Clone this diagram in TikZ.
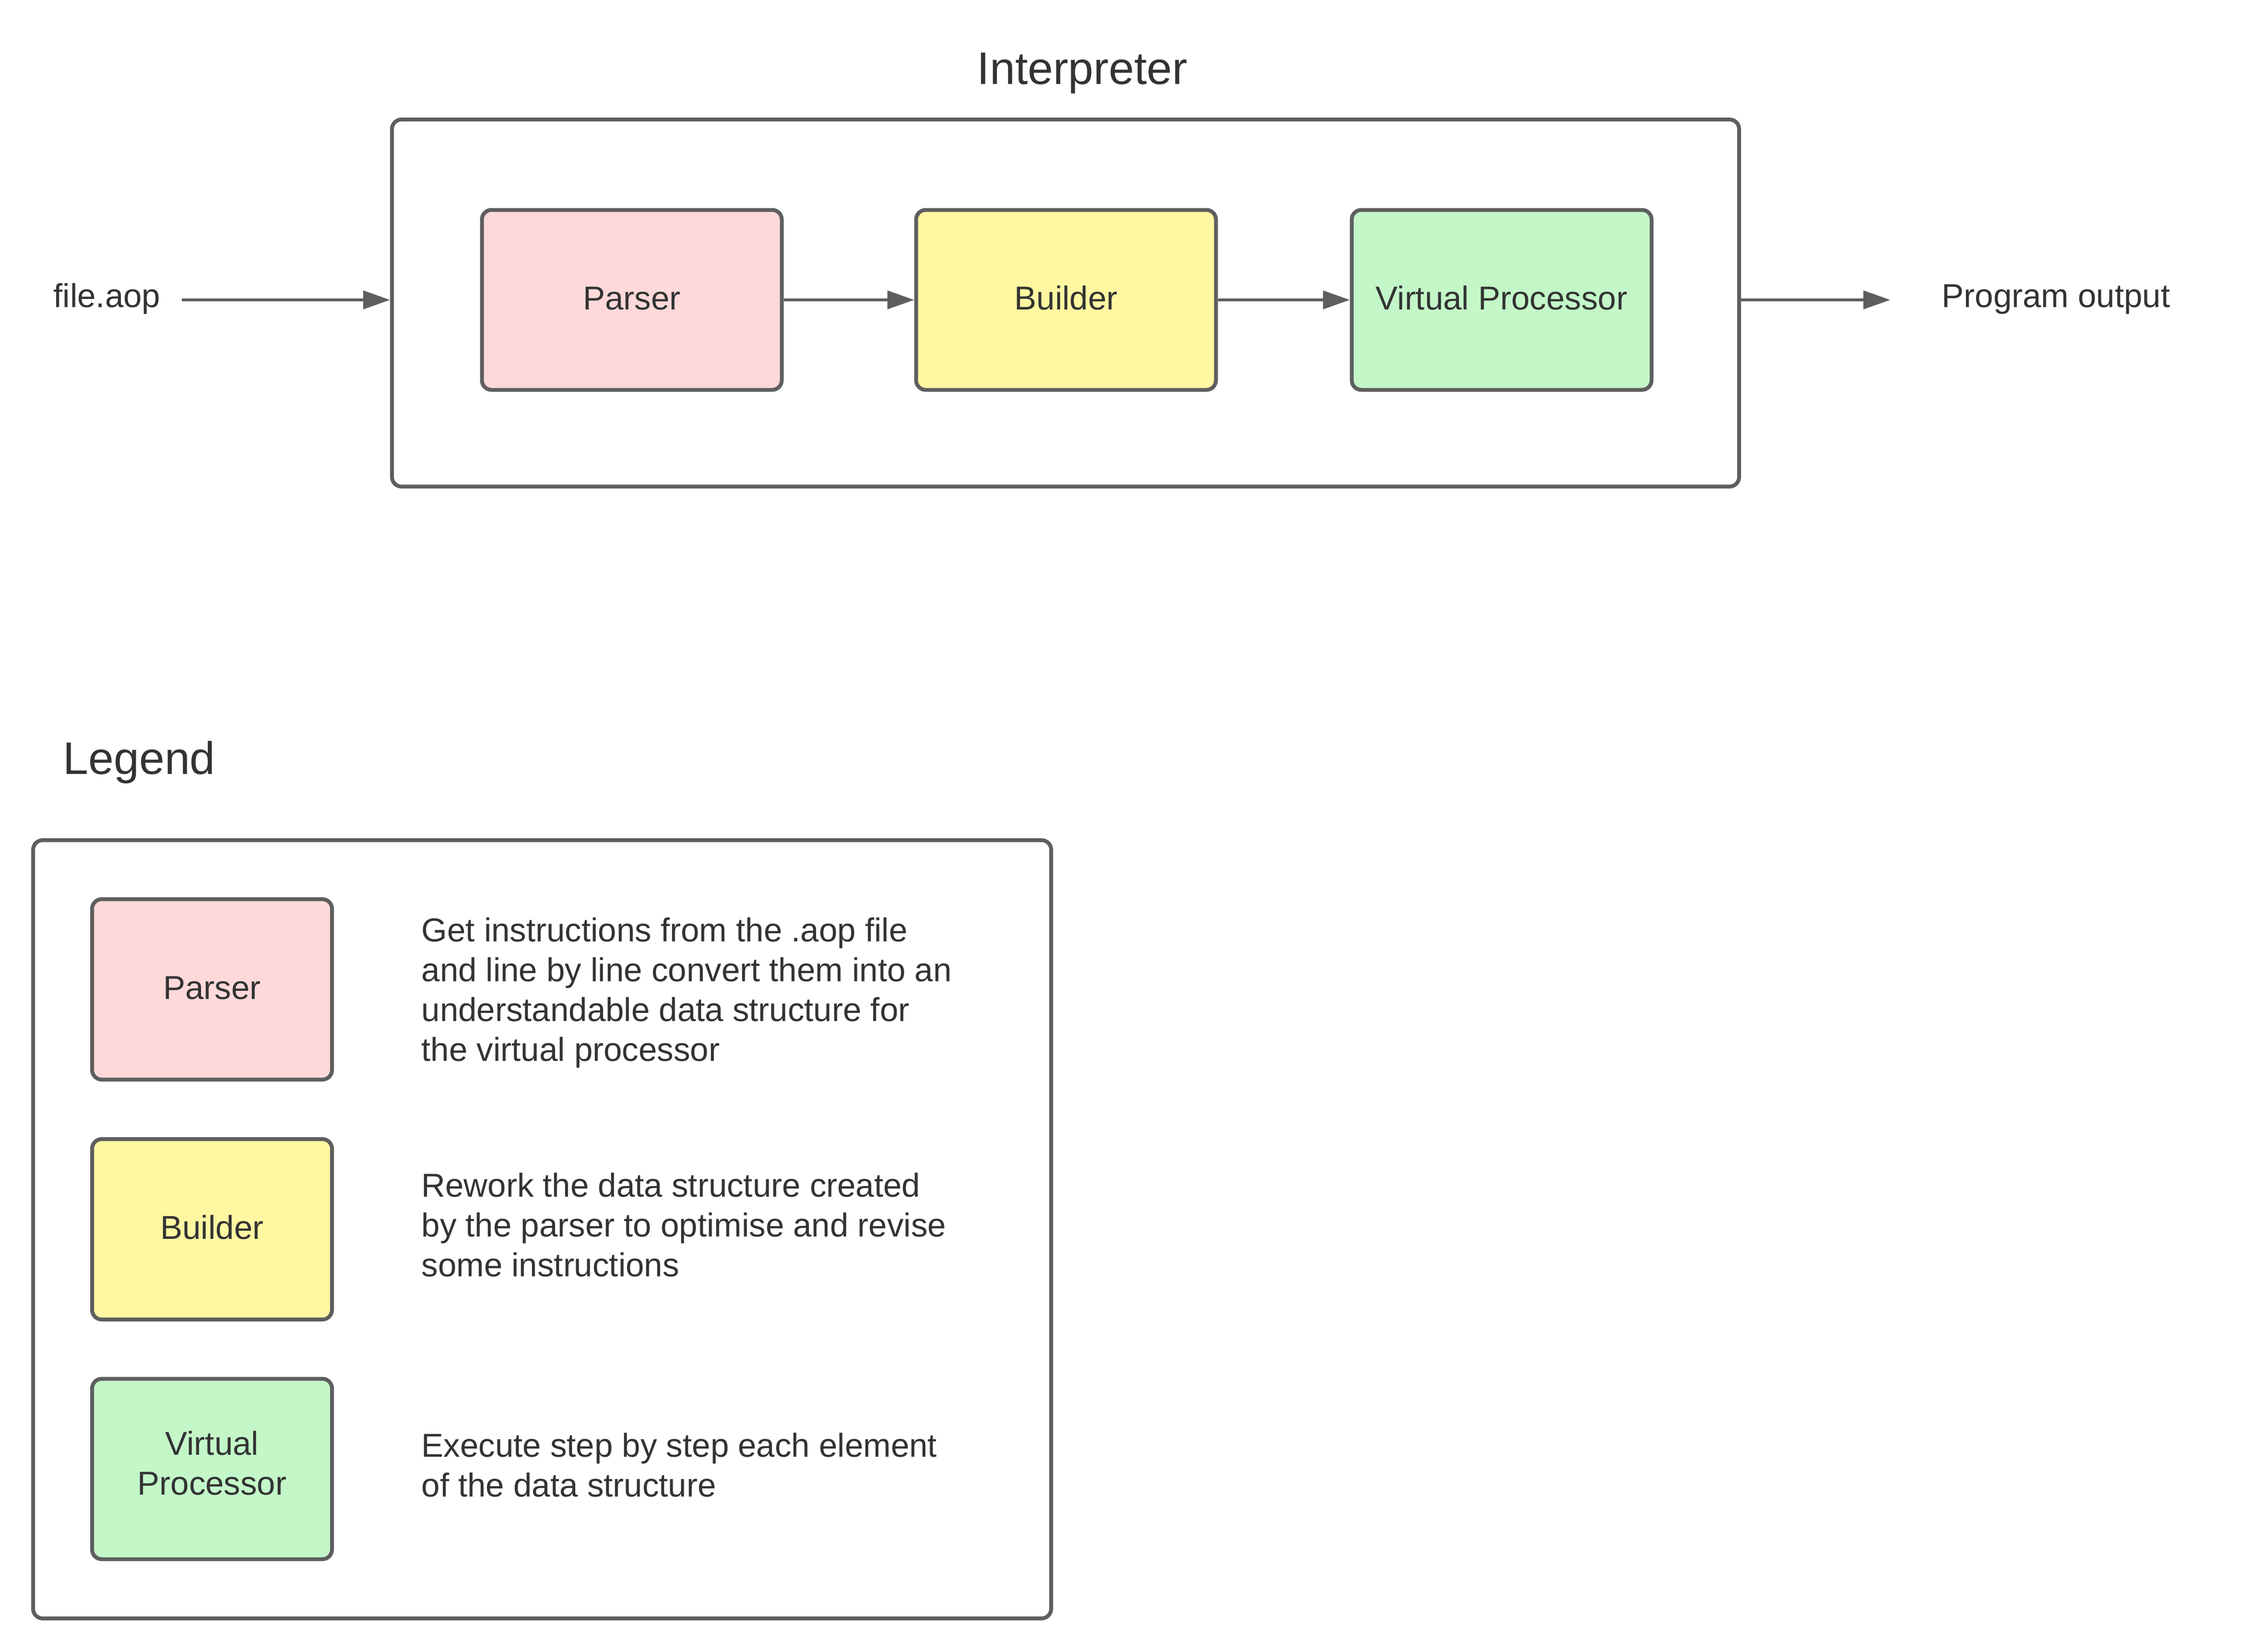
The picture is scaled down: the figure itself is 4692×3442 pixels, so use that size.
\documentclass[tikz,border=0pt]{standalone}
\usepackage{fontspec}
\setmainfont{Liberation Sans}
\usetikzlibrary{arrows.meta}
\definecolor{strokegray}{HTML}{5E5E5E}
\definecolor{textgray}{HTML}{333333}
\definecolor{pinkfill}{HTML}{FFD9D9}
\definecolor{yellowfill}{HTML}{FFF7A1}
\definecolor{greenfill}{HTML}{C3F7C8}
\begin{document}
\begin{tikzpicture}[x=0.1mm,y=-0.1mm,
  txt/.style={font=\fontsize{19.64pt}{23.62pt}\selectfont, text=textgray, inner sep=0pt},
  bigtitle/.style={font=\fontsize{27.04pt}{32pt}\selectfont, text=textgray, inner sep=0pt},
  frame/.style={draw=strokegray, line width=0.8mm, rounded corners=2mm},
  stagebox/.style={frame, txt, minimum width=62.5mm, minimum height=37.5mm, text height=6.2mm, text depth=2.2mm},
  legbox/.style={frame, txt, minimum width=50mm, minimum height=37.6mm},
  arr/.style={draw=strokegray, line width=0.56mm, -{Triangle[length=5.6mm, width=3.8mm]}},
]
\fill[white] (0,0) rectangle (4692,3442);
\useasboundingbox (0,0) rectangle (4692,3442);

% ---- Interpreter ----
\node[bigtitle, anchor=base] (ititle) at (2256,175) {Interpreter};
\node[frame, minimum width=280.8mm, minimum height=76.5mm] (outer) at (2221,631.5) {};
\node[stagebox, fill=pinkfill] (parser) at (1317,625) {Parser};
\node[stagebox, fill=yellowfill] (builder) at (2222,625) {Builder};
\node[stagebox, fill=greenfill] (vp) at (3130,625) {Virtual Processor};

\node[txt, anchor=base west] (fin) at (111,640) {file.aop};
\node[txt, anchor=base west] (fout) at (4047,640) {Program output};
\coordinate (instart) at (379,625);
\coordinate (outend) at (3940,625);

\draw[arr] (instart) -- (instart -| outer.west);
\draw[arr] (parser) -- (builder);
\draw[arr] (builder) -- (vp);
\draw[arr] (outer.east |- outend) -- (outend);

% ---- Legend ----
\node[bigtitle, anchor=base west] (ltitle) at (131,1613) {Legend};
\node[frame, minimum width=212.2mm, minimum height=162.2mm] (legend) at (1130,2562) {};
\node[legbox, fill=pinkfill, text height=6.2mm, text depth=2.2mm] (lparser) at (442,2062) {Parser};
\node[legbox, fill=yellowfill, text height=6.2mm, text depth=2.2mm] (lbuilder) at (442,2562) {Builder};
\node[legbox, fill=greenfill, align=center] (lvp) at (442,3061.5) {Virtual\\Processor\rule[-2.5mm]{0pt}{0pt}};

\node[txt, align=left, anchor=north west] (dparser) at (878,1912) {Get instructions from the .aop file\\and line by line convert them into an\\understandable data structure for\\the virtual processor};
\node[txt, align=left, anchor=north west] (dbuilder) at (878,2444) {Rework the data structure created\\by the parser to optimise and revise\\some instructions};
\node[txt, align=left, anchor=north west] (dvp) at (878,2986) {Execute step by step each element\\of the data structure};
\end{tikzpicture}
\end{document}
